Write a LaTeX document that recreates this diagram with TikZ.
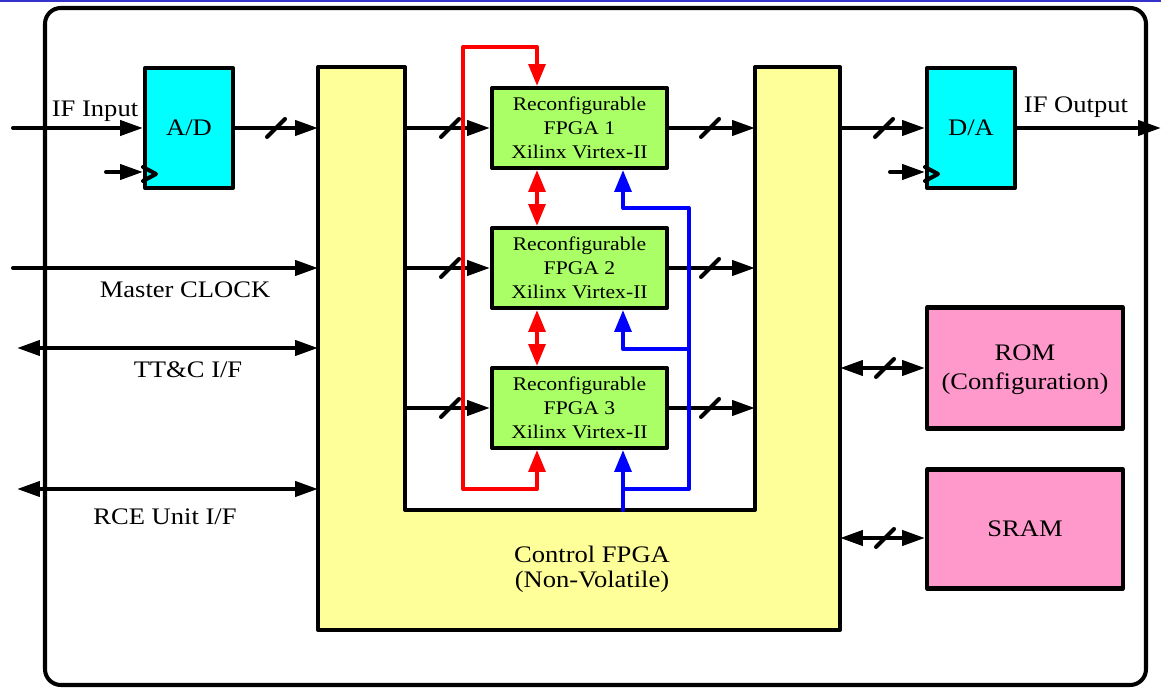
\documentclass[tikz,border=0pt]{standalone}
\usepackage{fontspec}
\setmainfont{Liberation Serif}[FakeStretch=1.12]
\usetikzlibrary{arrows.meta,positioning}
\definecolor{convcyan}{RGB}{0,255,255}
\definecolor{ctrlyellow}{RGB}{255,255,153}
\definecolor{fpgagreen}{RGB}{170,255,102}
\definecolor{mempink}{RGB}{255,153,204}
\definecolor{topblue}{RGB}{51,51,204}
\definecolor{cfgred}{RGB}{255,0,0}
\definecolor{clkblue}{RGB}{0,0,255}
\begin{document}
\begin{tikzpicture}[x=0.02cm,y=-0.02cm, line join=round, line cap=round,
    >={Triangle[length=13pt,width=8.5pt]},
    wire/.style={line width=2.3pt},
    redwire/.style={line width=2.3pt, draw=cfgred, >={Triangle[length=12.5pt,width=9.5pt]}},
    bluewire/.style={line width=2.3pt, draw=clkblue, >={Triangle[length=12.5pt,width=9.5pt]}},
    conv/.style={draw, line width=2.3pt, fill=convcyan, minimum width=1.76cm, minimum height=2.4cm, inner sep=0pt, font=\fontsize{13.5}{16}\selectfont},
    fpga/.style={draw, line width=2.3pt, fill=fpgagreen, minimum width=3.5cm, minimum height=1.6cm, inner sep=0pt, align=center, font=\fontsize{11}{13.6}\selectfont},
    mem/.style={draw, line width=2.3pt, fill=mempink, minimum width=3.92cm, inner sep=0pt},
    lbl/.style={anchor=base, inner sep=0pt, font=\fontsize{13.5}{16}\selectfont}]
  \useasboundingbox (0,0) rectangle (1161,688);
  \draw[topblue, line width=1.2pt] (0,1) -- (1161,1);
  \draw[line width=2.3pt, rounded corners=9pt] (45,8) rectangle (1146,685);
  % control FPGA (U shape)
  \draw[line width=2.3pt, fill=ctrlyellow] (318,67) -- (405,67) -- (405,510) -- (755,510) -- (755,67)
    -- (840,67) -- (840,630) -- (318,630) -- cycle;
  \node[lbl, align=center, font=\fontsize{13.5}{14.5}\selectfont] (ctrl) at (592,588) {Control FPGA\\(Non-Volatile)};
  \coordinate (ctrlw) at (318,0);
  \coordinate (ctrle) at (840,0);
  \coordinate (larm) at (405,0);
  \coordinate (rarm) at (755,0);

  \node[conv] (ad) at (189,128) {A/D};
  \node[conv] (da) at (971,128) {D/A};
  \node[fpga] (fpga1) at (579.5,128) {Reconfigurable\\FPGA 1\\Xilinx Virtex-II};
  \node[fpga] (fpga2) at (579.5,268) {Reconfigurable\\FPGA 2\\Xilinx Virtex-II};
  \node[fpga] (fpga3) at (579.5,408) {Reconfigurable\\FPGA 3\\Xilinx Virtex-II};
  \node[mem, minimum height=2.42cm] (rom) at (1025,368) {};
  \node[lbl, align=center, font=\fontsize{13.5}{16.6}\selectfont] (romtxt) at (1025,390) {ROM\\(Configuration)};
  \node[mem, minimum height=2.38cm] (sram) at (1025,529) {};
  \node[lbl] (sramtxt) at (1025,537) {SRAM};

  % clock inputs of the converters
  \draw[wire] (ad.south west) ++(0,-23) -- ++(13,7) -- ++(-13,7);
  \draw[wire] (da.south west) ++(0,-23) -- ++(13,7) -- ++(-13,7);
  \coordinate (adclk) at (106,172);
  \coordinate (daclk) at (890,172);
  \draw[wire,->] (adclk) -- (adclk -| ad.west);
  \draw[wire,->] (daclk) -- (daclk -| da.west);

  % signal path
  \coordinate (ifin) at (13,128);
  \coordinate (ifout) at (1161,128);
  \draw[wire,->] (ifin) -- (ad.west);
  \node[lbl] (iflbl) at (95,117) {IF Input};
  \draw[wire,->] (ad.east) -- (ctrlw |- ad.east);
  \foreach \n in {1,2,3} {
    \draw[wire,->] (larm |- fpga\n.west) -- (fpga\n.west);
    \draw[wire,->] (fpga\n.east) -- (rarm |- fpga\n.east);
  }
  \draw[wire,->] (ctrle |- da.west) -- (da.west);
  \draw[wire,->] (da.east) -- (ifout);
  \node[lbl] (oflbl) at (1076,113) {IF Output};

  % external interfaces
  \coordinate (mclk) at (13,268);
  \coordinate (ttc) at (17,348);
  \coordinate (rce) at (17,489);
  \draw[wire,->] (mclk) -- (ctrlw |- mclk);
  \draw[wire,<->] (ttc) -- (ctrlw |- ttc);
  \draw[wire,<->] (rce) -- (ctrlw |- rce);
  \node[lbl] (mclklbl) at (185,298) {Master CLOCK};
  \node[lbl] (ttclbl) at (188,378) {TT\&C I/F};
  \node[lbl] (rcelbl) at (165,525) {RCE Unit I/F};

  % memories
  \coordinate (sramio) at (840,538);
  \draw[wire,<->] (ctrle |- rom.west) -- (rom.west);
  \draw[wire,<->] (sramio) -- (sramio -| sram.west);

  % bus slashes
  \foreach \sx/\sy in {276/128, 450/128, 450/268, 450/408, 710/128, 710/268, 710/408, 884/128, 885/368, 885/538}
    \draw[wire] (\sx,\sy) +(-9,9) -- +(9,-9);

  % configuration chain
  \coordinate (redx) at (537,0);
  \coordinate (redlow) at (463,489);
  \coordinate (redtop) at (463,47);
  \draw[redwire,<->] (fpga3.south -| redx) |- (redlow) -- (redtop) -| (fpga1.north -| redx);
  \draw[redwire,<->] (fpga1.south -| redx) -- (fpga2.north -| redx);
  \draw[redwire,<->] (fpga2.south -| redx) -- (fpga3.north -| redx);

  % clock distribution
  \coordinate (bluex) at (623,0);
  \coordinate (bluebot) at (623,510);
  \coordinate (bluer) at (689,489);
  \coordinate (bluec1) at (689,208);
  \coordinate (bluec2) at (689,349);
  \draw[bluewire,->] (bluebot) -- (fpga3.south -| bluex);
  \draw[bluewire,->] (bluex |- bluer) -- (bluer) -- (bluec1) -| (fpga1.south -| bluex);
  \draw[bluewire,->] (bluec2) -| (fpga2.south -| bluex);
\end{tikzpicture}
\end{document}
